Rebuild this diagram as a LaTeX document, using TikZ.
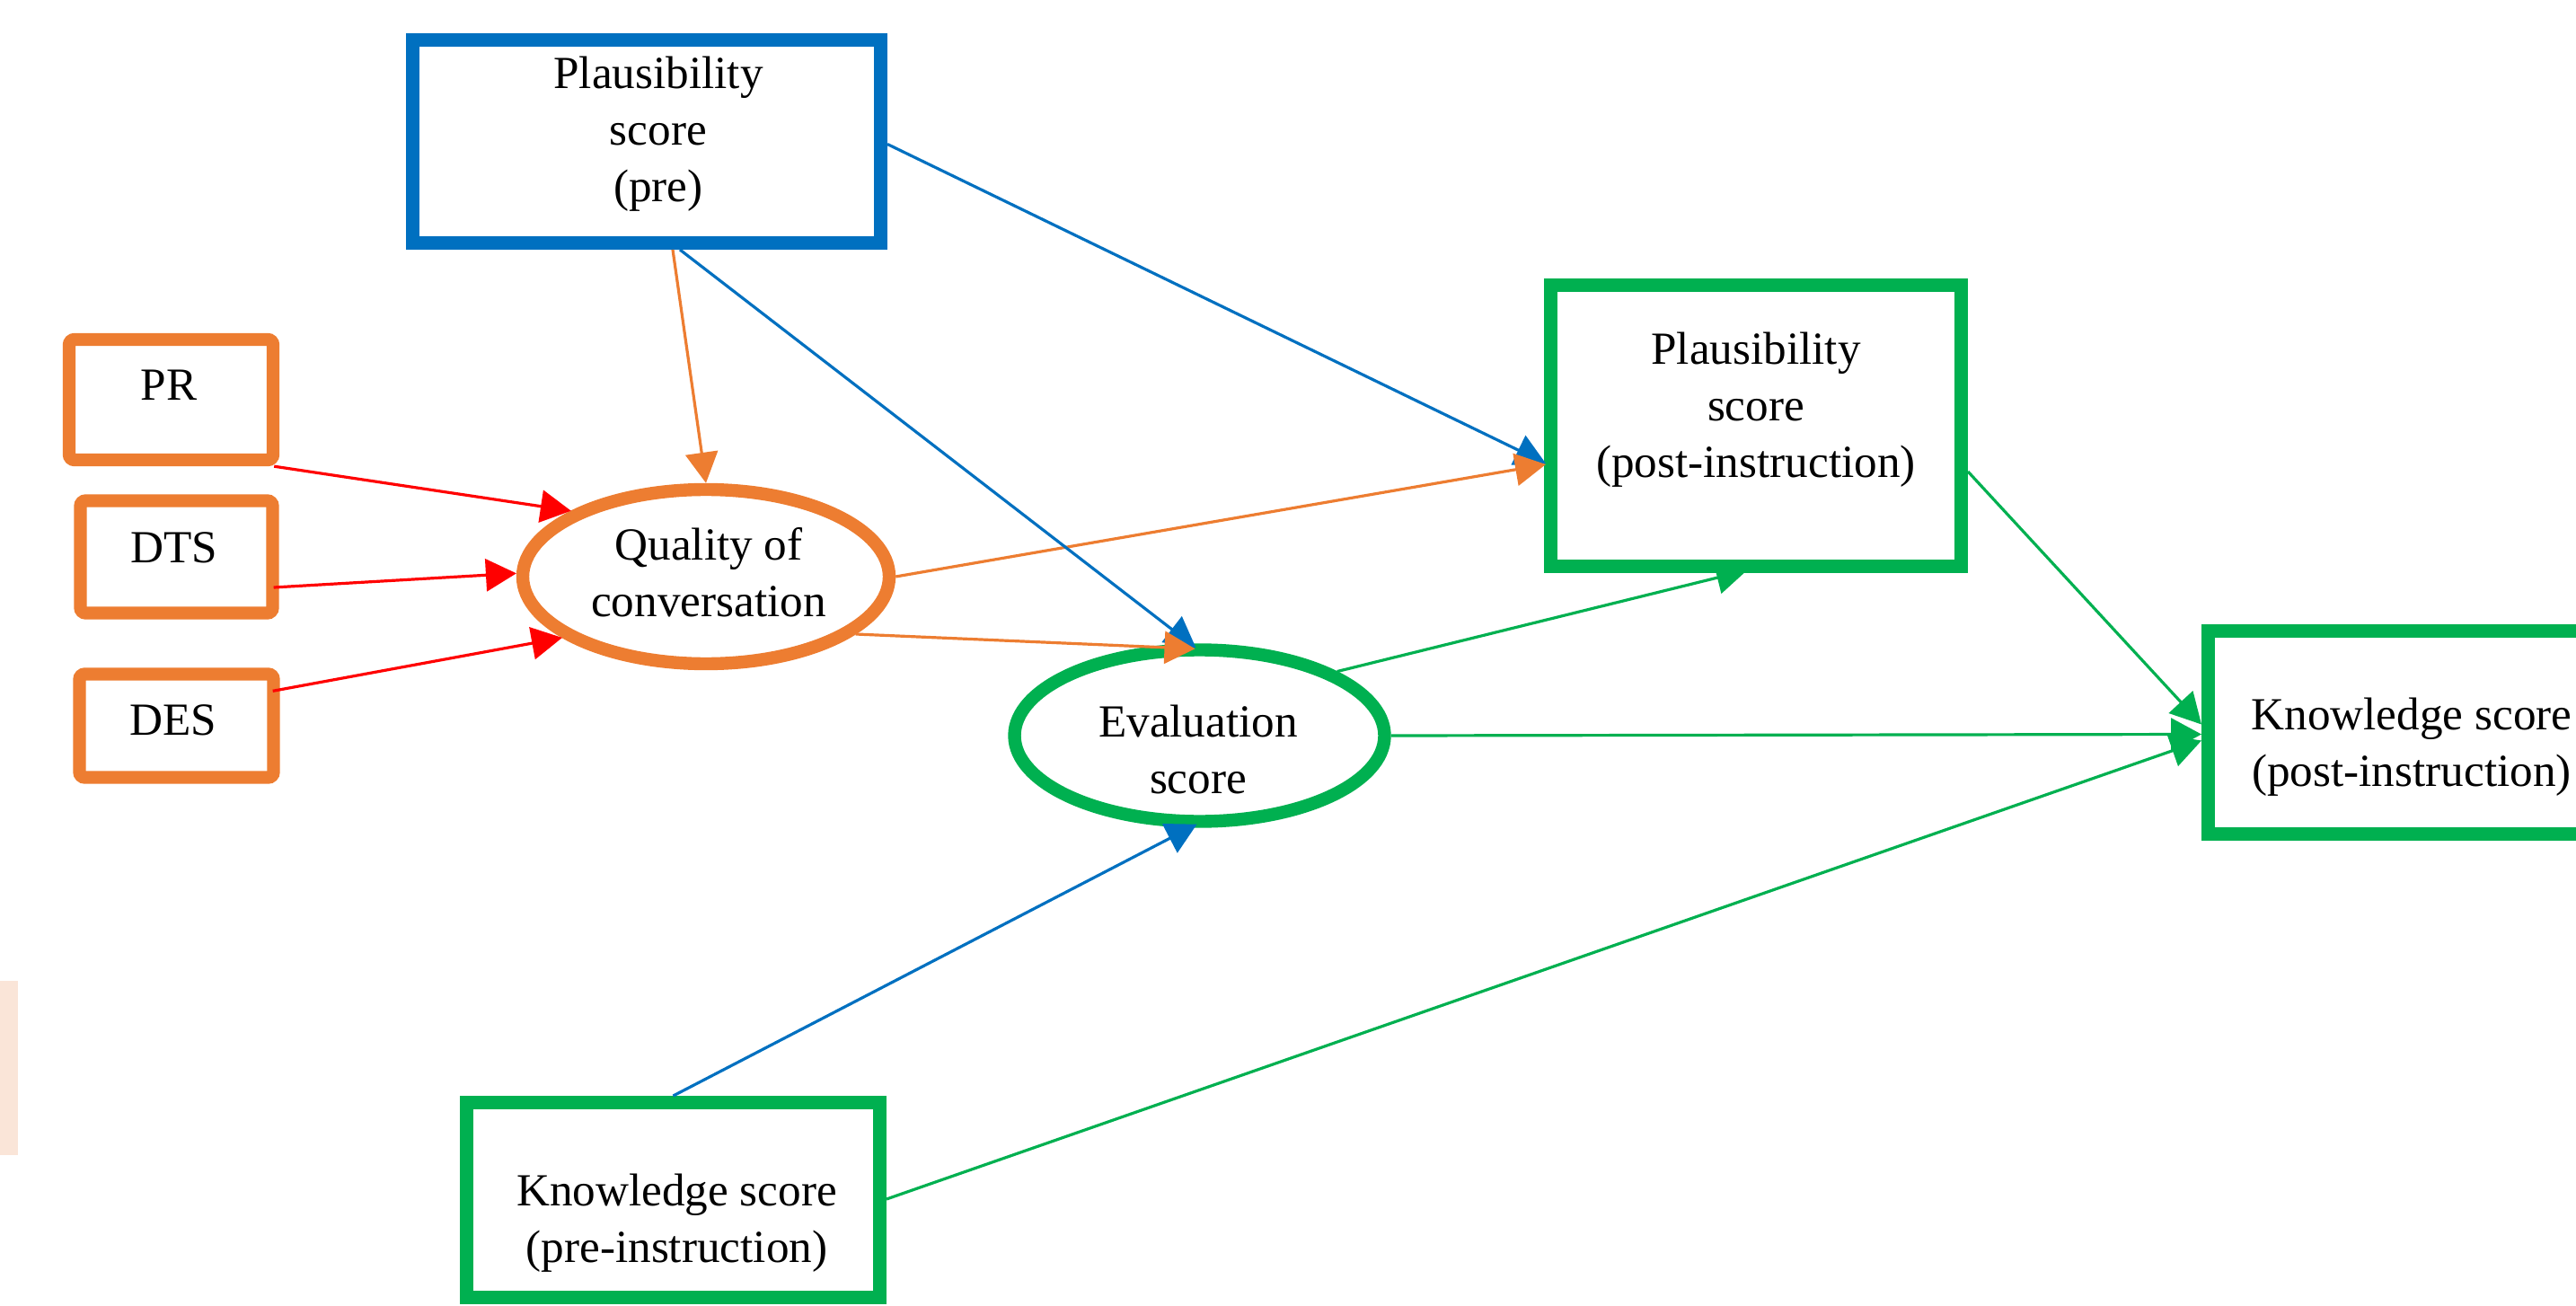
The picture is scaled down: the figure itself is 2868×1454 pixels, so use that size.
\documentclass[tikz,border=0pt]{standalone}
\usepackage{fontspec}
\setmainfont{Liberation Serif}
\usetikzlibrary{shapes.geometric,arrows.meta,calc}
\definecolor{cblue}{RGB}{0,112,192}
\definecolor{corange}{RGB}{237,125,49}
\definecolor{cgreen}{RGB}{0,176,80}
\definecolor{cred}{RGB}{255,0,0}
\definecolor{cpeach}{RGB}{250,229,216}
\begin{document}
\begin{tikzpicture}[x=0.25pt,y=-0.25pt,
  box/.style={draw,line width=3.75pt,fill=white,inner sep=0pt,rectangle},
  oval/.style={draw,line width=3.6pt,fill=white,ellipse,inner sep=0pt},
  lbl/.style={font=\fontsize{12.8}{15.75}\selectfont,align=center,inner sep=0pt,text=black},
  conn/.style={line width=0.8pt,-{Triangle[length=8.5pt,width=9pt]}},
]
\useasboundingbox (0,0) rectangle (2868,1454);
\clip (0,0) rectangle (2868,1454);
\fill[cpeach] (0,1092) rectangle (20,1286);

% shapes
\node[box,draw=cblue,minimum width=130.25pt,minimum height=56.5pt] (ppre) at (720,157.5) {};
\node[box,draw=corange,rounded corners=1.5pt,line width=3.6pt,minimum width=56.75pt,minimum height=33.5pt] (pr) at (190.5,445) {};
\node[box,draw=corange,rounded corners=1.5pt,line width=3.6pt,minimum width=53.5pt,minimum height=31.25pt] (dts) at (196.5,620) {};
\node[box,draw=corange,rounded corners=1.5pt,line width=3.6pt,minimum width=54pt,minimum height=28.75pt] (des) at (196.5,808) {};
\node[oval,draw=corange,minimum width=102pt,minimum height=48.5pt] (qual) at (786,642) {};
\node[oval,draw=cgreen,minimum width=103pt,minimum height=47.75pt] (eval) at (1335.5,819) {};
\node[box,draw=cgreen,minimum width=114.25pt,minimum height=78.25pt] (ppost) at (1955,474) {};
\node[box,draw=cgreen,minimum width=113.25pt,minimum height=56.5pt] (kpost) at (2685,815.5) {};
\node[box,draw=cgreen,minimum width=115pt,minimum height=54.25pt] (kpre) at (749.5,1336) {};

% texts
\node[lbl] (ppre-t) at (733,148.5) {\strut Plausibility\\\strut score\\\strut (pre)};
\node[lbl] (pr-t) at (188,433) {\strut PR};
\node[lbl] (dts-t) at (193.5,614) {\strut DTS};
\node[lbl] (des-t) at (193,806) {\strut DES};
\node[lbl] (qual-t) at (789,642) {\strut Quality of\\\strut conversation};
\node[lbl] (eval-t) at (1334,839) {\strut Evaluation\\\strut score};
\node[lbl] (ppost-t) at (1955,456) {\strut Plausibility\\\strut score\\\strut (post-instruction)};
\node[lbl] (kpost-t) at (2685,831) {\strut Knowledge score\\\strut (post-instruction)};
\node[lbl] (kpre-t) at (753.5,1361) {\strut Knowledge score\\\strut (pre-instruction)};

% connectors
\draw[conn,cblue] ($(ppre.east)+(0,3)$) -- ($(ppost.west)+(2,42)$);
\draw[conn,corange] (qual.east) -- ($(ppost.west)+(2,43)$);
\draw[conn,corange] ($(ppre.south)+(29,0)$) -- (qual.north);
\draw[conn,cblue] ($(ppre.south)+(37,0)$) -- ($(eval.north)+(-4,5)$);
\draw[conn,corange] (qual.-21) -- ($(eval.north)+(-5,6)$);
\draw[conn,cred] ($(pr.south east)+(-6,0)$) -- (qual.154);
\draw[conn,cred] ($(dts.east)+(-6,34)$) -- (qual.179);
\draw[conn,cred] ($(des.north east)+(-8,26)$) -- (qual.203);
\draw[conn,cgreen] (eval.25) -- ($(ppost.south)+(-10,-3)$);
\draw[conn,cgreen] (eval.east) -- ($(kpost.west)+(0,2)$);
\draw[conn,cgreen] ($(ppost.east)+(0,51)$) -- ($(kpost.west)+(0,-9)$);
\draw[conn,cgreen] ($(kpre.east)+(0,-1)$) -- ($(kpost.west)+(0,9)$);
\draw[conn,cblue] (kpre.north) -- ($(eval.south)+(-3,-4)$);
\end{tikzpicture}
\end{document}
